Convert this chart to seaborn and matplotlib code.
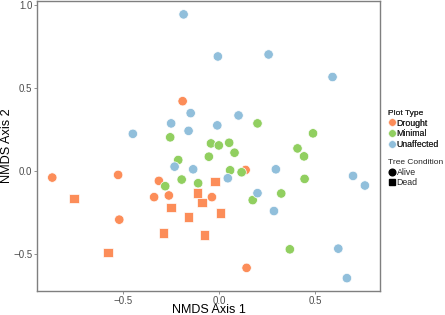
import matplotlib
matplotlib.use("Agg")
import matplotlib.pyplot as plt
from matplotlib.lines import Line2D
import seaborn as sns
import pandas as pd

# ---- data ----
drought_alive_x = [-0.191, 0.138, -0.315, -0.340, -0.263, -0.038, 0.143, -0.872, -0.528, -0.522]
drought_alive_y = [0.421, 0.006, -0.060, -0.158, -0.148, -0.158, -0.585, -0.040, -0.024, -0.294]

drought_dead_x = [-0.022, -0.113, -0.089, -0.251, -0.160, 0.007, -0.290, -0.078, -0.759, -0.580]
drought_dead_y = [-0.062, -0.134, -0.192, -0.222, -0.278, -0.254, -0.374, -0.386, -0.166, -0.491]

minimal_x = [-0.256, -0.214, 0.200, 0.490, -0.043, -0.002, 0.052, 0.080, -0.054, 0.409,
             0.443, 0.057, 0.117, 0.446, -0.196, -0.282, -0.110, 0.324, 0.175, 0.369]
minimal_y = [0.203, 0.066, 0.287, 0.227, 0.166, 0.154, 0.170, 0.110, 0.086, 0.136,
             0.088, 0.004, -0.008, -0.048, -0.052, -0.092, -0.074, -0.136, -0.176, -0.473]

unaffected_x = [-0.186, -0.149, -0.251, -0.160, -0.451, -0.007, 0.258, 0.592, 0.101, -0.010,
                -0.233, -0.136, 0.296, 0.699, 0.761, 0.045, 0.200, 0.286, 0.622, 0.667]
unaffected_y = [0.945, 0.349, 0.287, 0.242, 0.224, 0.691, 0.703, 0.567, 0.335, 0.275,
                0.026, 0.010, 0.010, -0.030, -0.088, -0.044, -0.134, -0.242, -0.469, -0.647]

plot_types = ["Drought", "Minimal", "Unaffected"]
conditions = ["Alive", "Dead"]
colors = ["#fc8d59", "#91cf60", "#91bfdb"]
x_ticks = [-0.5, 0.0, 0.5]
y_ticks = [-0.5, 0.0, 0.5, 1.0]

rows = []
for xs, ys, pt, tc in [(drought_alive_x, drought_alive_y, "Drought", "Alive"),
                       (drought_dead_x, drought_dead_y, "Drought", "Dead"),
                       (minimal_x, minimal_y, "Minimal", "Alive"),
                       (unaffected_x, unaffected_y, "Unaffected", "Alive")]:
    for a, b in zip(xs, ys):
        rows.append({"NMDS1": a, "NMDS2": b, "Plot Type": pt, "Tree Condition": tc})
df = pd.DataFrame(rows)

sns.set_style("white")
plt.rcParams["font.family"] = ["Liberation Sans", "DejaVu Sans"]
plt.rcParams["axes.unicode_minus"] = True

fig = plt.figure(figsize=(4.45, 3.15), dpi=100)
ax = fig.add_axes([0.083, 0.076, 0.771, 0.922])

palette = dict(zip(plot_types, colors))
sns.scatterplot(data=df, x="NMDS1", y="NMDS2", hue="Plot Type", style="Tree Condition",
                hue_order=plot_types, style_order=conditions,
                markers={"Alive": "o", "Dead": "s"}, palette=palette,
                s=46, edgecolor="white", linewidth=0.5, ax=ax, legend=False, zorder=3)

ax.set_xlim(-0.952, 0.84)
ax.set_ylim(-0.725, 1.028)
ax.set_xticks(x_ticks)
ax.set_yticks(y_ticks)
ax.set_xticklabels([f"{v:.1f}".replace("-", "\u2212") for v in x_ticks])
ax.set_yticklabels([f"{v:.1f}".replace("-", "\u2212") for v in y_ticks])
ax.tick_params(axis="both", which="both", length=2.2, width=0.6, color="#7f7f7f",
               labelsize=7.0, labelcolor="#4d4d4d", pad=1.0, bottom=True, left=True)
for sp in ax.spines.values():
    sp.set_color("#7f7f7f")
    sp.set_linewidth(1.0)
ax.set_xlabel("NMDS Axis 1", fontsize=9.0, color="black")
ax.set_ylabel("NMDS Axis 2", fontsize=9.2, color="black")
ax.xaxis.set_label_coords(0.5, -0.0745)
ax.xaxis.label.set_va("baseline")
ax.yaxis.set_label_coords(-0.086, 0.5)
ax.yaxis.label.set_va("center")

# legends
h1 = [Line2D([0], [0], marker="o", linestyle="", markersize=5.4, markerfacecolor=c,
             markeredgecolor="white", markeredgewidth=0.3) for c in colors]
leg1 = fig.legend(h1, plot_types, title="Plot Type", loc="upper left",
                  bbox_to_anchor=(0.869, 0.657), frameon=False, fontsize=6.3,
                  title_fontsize=6.0, handlelength=0.7, handletextpad=0.22,
                  labelspacing=0.2, borderpad=0.2, alignment="left",
                  borderaxespad=0.0)
h2 = [Line2D([0], [0], marker=m, linestyle="", markersize=4.8, markerfacecolor="black",
             markeredgecolor="black") for m in ["o", "s"]]
leg2 = fig.legend(h2, conditions, title="Tree Condition", loc="upper left",
                  bbox_to_anchor=(0.869, 0.501), frameon=False, fontsize=6.3,
                  title_fontsize=6.0, handlelength=0.7, handletextpad=0.22,
                  labelspacing=0.2, borderpad=0.2, alignment="left",
                  borderaxespad=0.0)
fig.add_artist(leg1)

fig.savefig("out.png", dpi=100)
